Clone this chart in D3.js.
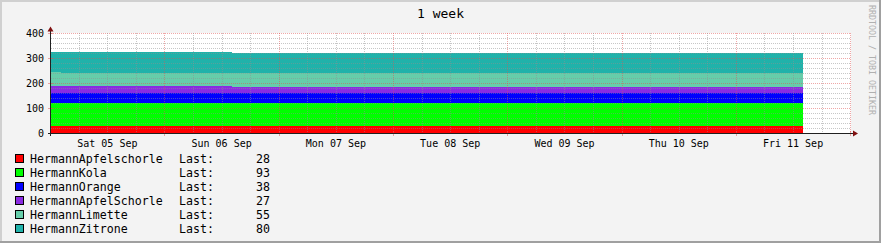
<!DOCTYPE html>
<html>
<head>
<meta charset="utf-8">
<script src="https://cdn.jsdelivr.net/npm/d3@7"></script>
<style>
body { margin: 0; background: #f3f3f3; }
svg { display: block; font-family: "DejaVu Sans Mono", monospace; }
</style>
</head>
<body>
<svg width="881" height="243"></svg>
<script>
// series, bottom to top of the stack
var names = ["HermannApfelschorle", "HermannKola", "HermannOrange", "HermannApfelSchorle", "HermannLimette", "HermannZitrone"];
var colors = ["#ff0000", "#00ff00", "#0000ff", "#8a2be2", "#66cdaa", "#20b2aa"];
var lastValues = [28, 93, 38, 27, 55, 80];

// step points (value holds until next time)
var times = ["2020-09-05T00:10:00Z", "2020-09-05T02:15:00Z", "2020-09-06T14:05:00Z", "2020-09-11T14:05:00Z"];
var apfelschorle = [28, 28, 28, 28];
var kola = [93, 93, 93, 93];
var orange = [38, 38, 38, 38];
var apfelSchorle = [31, 31, 27, 27];
var limette = [55, 51, 55, 55];
var zitrone = [80, 84, 80, 80];

var yTicks = [0, 100, 200, 300, 400];
var title = "1 week";
var xStart = "2020-09-05T00:10:00Z", xEnd = "2020-09-12T00:10:00Z";

var seriesValues = [apfelschorle, kola, orange, apfelSchorle, limette, zitrone];

var svg = d3.select("svg"),
    W = 881, H = 243;

var rows = times.map(function(t, i) {
  var r = { t: new Date(t) };
  names.forEach(function(n, k) { r[n] = seriesValues[k][i]; });
  return r;
});

var x = d3.scaleUtc().domain([new Date(xStart), new Date(xEnd)]).range([51, 851]);
var y = d3.scaleLinear().domain([0, 400]).range([133, 33]);

// frame
svg.append("rect").attr("width", W).attr("height", H).attr("fill", "#f3f3f3");
svg.append("path").attr("d", "M1,243V1H881").attr("fill", "none").attr("stroke", "#d0d0d0").attr("stroke-width", 2);
svg.append("path").attr("d", "M0,242H880V0").attr("fill", "none").attr("stroke", "#a0a0a0").attr("stroke-width", 2);

svg.append("text")
    .attr("x", 440.5).attr("y", 18)
    .attr("text-anchor", "middle")
    .style("font-size", "13px")
    .text(title);

svg.append("rect").attr("x", 51).attr("y", 33).attr("width", 800).attr("height", 100).attr("fill", "#fff");

// stacked step areas
var stack = d3.stack().keys(names);
var area = d3.area()
    .curve(d3.curveStepAfter)
    .x(function(d) { return x(d.data.t); })
    .y0(function(d) { return y(d[0]); })
    .y1(function(d) { return y(d[1]); });

svg.append("g").selectAll("path")
  .data(stack(rows))
  .enter().append("path")
    .attr("d", area)
    .attr("fill", function(d, i) { return colors[i]; })
    .attr("shape-rendering", "crispEdges");

// grid
var gridMinor = "rgba(144,144,144,0.5)", gridMajor = "rgba(224,80,80,0.5)";
var g = svg.append("g").attr("stroke-dasharray", "1,1").attr("fill", "none");

d3.range(20, 401, 20).forEach(function(v) {
  g.append("line")
      .attr("x1", 51).attr("x2", 851)
      .attr("y1", Math.round(y(v)) + 0.5).attr("y2", Math.round(y(v)) + 0.5)
      .attr("stroke", v % 100 === 0 ? gridMajor : gridMinor);
});

d3.utcHour.every(6).range(new Date(xStart), new Date(xEnd)).forEach(function(t) {
  var px = Math.round(x(t)) + 0.5;
  if (px < 52) return;
  g.append("line")
      .attr("x1", px).attr("x2", px)
      .attr("y1", 33).attr("y2", 133)
      .attr("stroke", t.getUTCHours() === 0 ? gridMajor : gridMinor);
});

// tick marks on axes
yTicks.forEach(function(v) {
  svg.append("line")
      .attr("x1", 48).attr("x2", 53)
      .attr("y1", Math.round(y(v)) + 0.5).attr("y2", Math.round(y(v)) + 0.5)
      .attr("stroke", gridMajor);
});
d3.utcDay.range(new Date(xStart), new Date(xEnd)).forEach(function(t) {
  var px = Math.round(x(t)) + 0.5;
  svg.append("line")
      .attr("x1", px).attr("x2", px)
      .attr("y1", 131).attr("y2", 136)
      .attr("stroke", gridMajor);
});

// axes
svg.append("line").attr("x1", 48).attr("x2", 854).attr("y1", 133.5).attr("y2", 133.5).attr("stroke", "#202020");
svg.append("line").attr("x1", 50.5).attr("x2", 50.5).attr("y1", 136).attr("y2", 30).attr("stroke", "#202020");
svg.append("path").attr("d", "M50.5,26.5L47.5,31.5L53.5,31.5Z").attr("fill", "#801010");
svg.append("path").attr("d", "M858,133.5L853,130.5L853,136.5Z").attr("fill", "#801010");

// y labels
svg.append("g").selectAll("text")
  .data(yTicks)
  .enter().append("text")
    .attr("x", 44)
    .attr("y", function(d) { return y(d) + 3.5; })
    .attr("text-anchor", "end")
    .style("font-size", "10px")
    .text(function(d) { return d; });

// x labels at noon
var noons = d3.utcDay.range(new Date(xStart), new Date(xEnd)).map(function(t) { return d3.utcHour.offset(t, 12); });
noons = [d3.utcHour.offset(d3.utcDay.floor(new Date(xStart)), 12)].concat(noons).filter(function(t, i, a) {
  return x(t) > 51 && x(t) < 851 && (i === 0 || +t !== +a[i - 1]);
});
svg.append("g").selectAll("text")
  .data(noons)
  .enter().append("text")
    .attr("x", function(d) { return x(d); })
    .attr("y", 146.5)
    .attr("text-anchor", "middle")
    .style("font-size", "10px")
    .text(d3.utcFormat("%a %d %b"));

// legend
var leg = svg.append("g").selectAll("g")
  .data(names)
  .enter().append("g")
    .attr("transform", function(d, i) { return "translate(0," + (14 * i) + ")"; });

leg.append("rect")
    .attr("x", 15.5).attr("y", 154.5)
    .attr("width", 8).attr("height", 8)
    .attr("fill", function(d, i) { return colors[i]; })
    .attr("stroke", "#000");
leg.append("text")
    .attr("x", 30).attr("y", 163)
    .style("font-size", "11.6px")
    .text(function(d) { return d; });
leg.append("text")
    .attr("x", 179).attr("y", 163)
    .style("font-size", "11.6px")
    .text("Last:");
leg.append("text")
    .attr("x", 270).attr("y", 163)
    .attr("text-anchor", "end")
    .style("font-size", "11.6px")
    .text(function(d, i) { return lastValues[i]; });

// watermark
svg.append("text")
    .attr("transform", "translate(868.5,5) rotate(90)")
    .attr("fill", "#b0b0b0")
    .style("font-size", "8.3px")
    .text("RRDTOOL / TOBI OETIKER");
</script>
</body>
</html>
